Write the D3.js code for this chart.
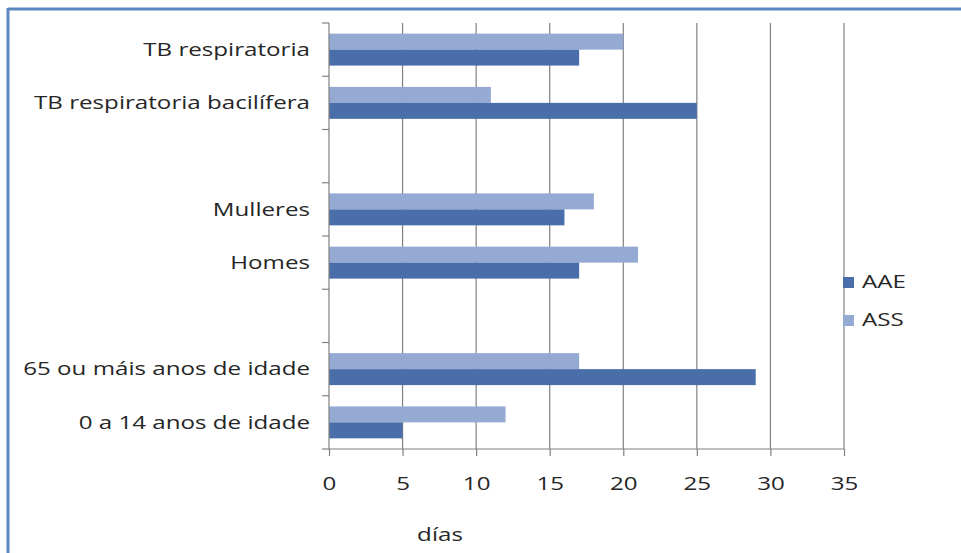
<!DOCTYPE html>
<html><head><meta charset="utf-8">
<script src="https://cdn.jsdelivr.net/npm/d3@7"></script>
<style>body{margin:0;background:#fff}text{font-family:"Open Sans",sans-serif;fill:#262626}</style>
</head><body>
<svg id="c" width="961" height="553"></svg>
<script>
const categories = ["TB respiratoria","TB respiratoria bacilífera","","Mulleres","Homes","","65 ou máis anos de idade","0 a 14 anos de idade"];
const seriesNames = ["AAE","ASS"];
const aae = [17,25,null,16,17,null,29,5];
const ass = [20,11,null,18,21,null,17,12];
const xTicks = [0,5,10,15,20,25,30,35];
const xTitle = "días";
const colors = {AAE:"#4a6ea9", ASS:"#94aad2"};

(function(){
const SX = 1.38, FS = 17.5;
const svg = d3.select("#c");
function txt(g, tx, ty, s, anchor){
  return g.append("text").attr("transform",`translate(${tx},${ty}) scale(${SX},1)`)
    .attr("dy","0.35em").attr("text-anchor",anchor).attr("font-size",FS).text(s);
}
// frame
svg.append("line").attr("x1",8).attr("x2",961).attr("y1",9).attr("y2",9).attr("stroke","#5b87c0").attr("stroke-width",3);
svg.append("line").attr("x1",8).attr("x2",8).attr("y1",8).attr("y2",553).attr("stroke","#5b87c0").attr("stroke-width",3);

const pL=329, pR=844, pT=23, pB=449;
const keys = categories.map((c,i)=>"k"+i);
const x = d3.scaleLinear().domain([0,35]).range([pL,pR]);
const y = d3.scaleBand().domain(keys).range([pT,pB]).paddingInner(0.4).paddingOuter(0.2);
const step = y.step();

// gridlines
svg.append("g").selectAll("line").data(xTicks.slice(1)).join("line")
  .attr("x1",d=>x(d)).attr("x2",d=>x(d)).attr("y1",pT).attr("y2",pB)
  .attr("stroke","#808080").attr("stroke-width",1.2);

// bars
const half = y.bandwidth()/2;
keys.forEach((k,i)=>{
  if(ass[i]!=null) svg.append("rect").attr("x",x(0)).attr("y",y(k)).attr("width",x(ass[i])-x(0)).attr("height",half).attr("fill",colors.ASS);
  if(aae[i]!=null) svg.append("rect").attr("x",x(0)).attr("y",y(k)+half).attr("width",x(aae[i])-x(0)).attr("height",half).attr("fill",colors.AAE);
});

// left axis
const ga = svg.append("g").attr("stroke","#808080").attr("stroke-width",1.2);
ga.append("line").attr("x1",pL).attr("x2",pL).attr("y1",pT).attr("y2",pB);
d3.range(keys.length+1).forEach(i=>{
  const yy = pT + i*step;
  ga.append("line").attr("x1",pL-7).attr("x2",pL).attr("y1",yy).attr("y2",yy);
});
// category labels
const gl = svg.append("g");
categories.forEach((c,i)=>{ if(c) txt(gl, pL-19, y(keys[i])+y.bandwidth()/2, c, "end"); });

// bottom axis
const gb = svg.append("g").attr("transform",`translate(0,${pB})`)
  .call(d3.axisBottom(x).tickValues(xTicks).tickSize(7).tickPadding(10));
gb.select(".domain").attr("stroke","#808080").attr("stroke-width",1.2).attr("d",`M${pL},0H${pR}`);
gb.selectAll(".tick line").attr("stroke","#808080").attr("stroke-width",1.2);
gb.selectAll(".tick text").attr("font-size",FS).attr("font-family","Open Sans").attr("fill","#262626")
  .attr("y",null).attr("dy","0.35em").attr("transform",`translate(0,35) scale(${SX},1)`);

const gt = svg.append("g");
txt(gt, 440, 535, xTitle, "middle");

// legend
const lg = svg.append("g");
seriesNames.forEach((s,i)=>{
  const yy = 282 + i*38;
  lg.append("rect").attr("x",843).attr("y",yy-5).attr("width",11).attr("height",11).attr("fill",colors[s]);
  txt(lg, 862, yy, s, "start");
});
})();
</script>
</body></html>
